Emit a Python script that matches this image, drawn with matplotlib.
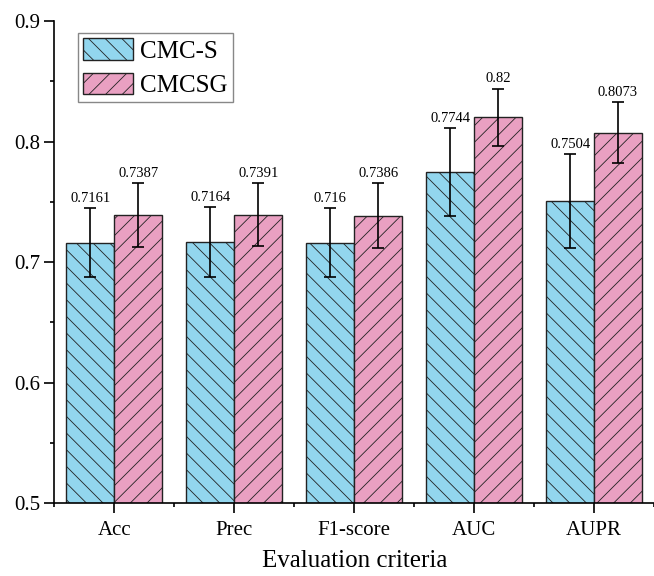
import numpy as np
import matplotlib
matplotlib.use('Agg')
from matplotlib import pyplot as plt
from matplotlib.ticker import MultipleLocator

plt.rcParams['font.family'] = ['Liberation Serif', 'DejaVu Serif']
plt.rcParams['hatch.linewidth'] = 0.6

criteria = ['Acc', 'Prec', 'F1-score', 'AUC', 'AUPR']
cmc_s = [0.7161, 0.7164, 0.716, 0.7744, 0.7504]
cmcsg = [0.7387, 0.7391, 0.7386, 0.82, 0.8073]
cmc_s_err = [0.0285, 0.029, 0.0286, 0.0365, 0.039]
cmcsg_err = [0.0266, 0.0262, 0.0267, 0.024, 0.0255]

fig = plt.figure(figsize=(6.54, 5.76), dpi=100)
ax = fig.add_axes([0.0833, 0.1267, 0.9167, 0.8368])

x = np.arange(len(criteria))
w = 0.4
blue = '#92d6ee'
pink = '#e9a0c2'

ax.bar(x - w / 2, cmc_s, w, color=blue, edgecolor='#222222', linewidth=1.0,
       hatch='\\\\', label='CMC-S')
ax.bar(x + w / 2, cmcsg, w, color=pink, edgecolor='#222222', linewidth=1.0,
       hatch='//', label='CMCSG')
ax.errorbar(x - w / 2, cmc_s, yerr=cmc_s_err, fmt='none', ecolor='black',
            elinewidth=1.2, capsize=4, capthick=1.2)
ax.errorbar(x + w / 2, cmcsg, yerr=cmcsg_err, fmt='none', ecolor='black',
            elinewidth=1.2, capsize=4, capthick=1.2)

# value labels above the error bars
for xs, vals, errs in [(x - w / 2, cmc_s, cmc_s_err), (x + w / 2, cmcsg, cmcsg_err)]:
    for xi, v, e in zip(xs, vals, errs):
        ax.annotate(f'{v:g}', (xi, v + e), xytext=(0, 2.5), textcoords='offset points',
                    ha='center', va='bottom', fontsize=10.5)

ax.set_xlim(-0.5, 4.5)
ax.set_ylim(0.5, 0.9)
ax.set_xticks(x)
ax.set_xticklabels(criteria)
ax.xaxis.set_minor_locator(MultipleLocator(0.5))
ax.yaxis.set_major_locator(MultipleLocator(0.1))
ax.yaxis.set_minor_locator(MultipleLocator(0.05))
ax.tick_params(which='major', direction='out', length=7, width=1.2, labelsize=15)
ax.tick_params(axis='x', which='major', pad=6)
ax.tick_params(which='minor', direction='out', length=3, width=1.2)
ax.spines['top'].set_visible(False)
ax.spines['right'].set_visible(False)
ax.spines['left'].set_linewidth(1.2)
ax.spines['bottom'].set_linewidth(1.2)
ax.spines['bottom'].set_clip_on(False)
ax.set_xlabel('Evaluation criteria', fontsize=18, labelpad=7)

leg = ax.legend(loc='upper left', bbox_to_anchor=(0.039, 0.975), borderaxespad=0,
                fontsize=18, fancybox=False, framealpha=1, edgecolor='#888888',
                handlelength=2.0, handleheight=0.96, labelspacing=0.4,
                handletextpad=0.3, borderpad=0.2)
leg.get_frame().set_linewidth(1.0)

plt.savefig('out.png', dpi=100)
